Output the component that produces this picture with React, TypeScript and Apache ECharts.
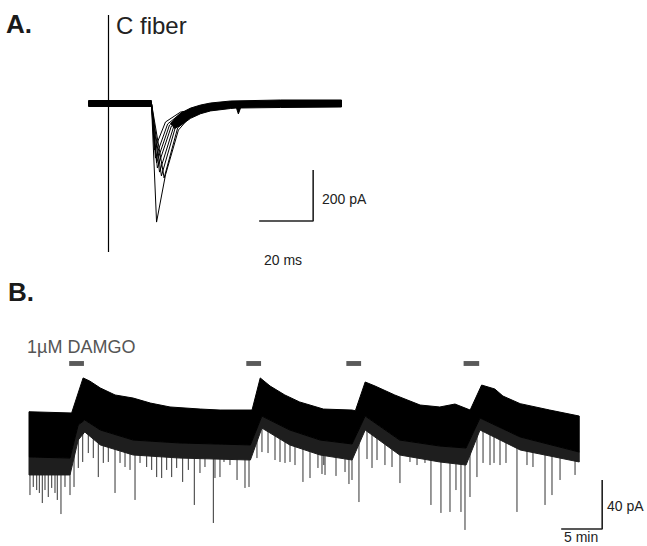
import React, { useEffect, useRef } from "react";
import * as echarts from "echarts";

// ---------- Panel A: evoked C-fiber EPSCs (time in ms, current in pA) ----------
const aOnset: number[][] = [[-7.4, 0], [15.9, 0]];
const aTail: number[][] = [[37.8, -23.5], [45.2, -11.8], [63.7, -3.9], [86.3, 0]];
const aTraceBodies: number[][][] = [
  [[17.0, -184], [21.1, -74.5], [26.7, -35.3]],
  [[17.4, -216], [21.9, -82.4], [27.4, -35.3]],
  [[17.8, -235], [22.6, -86.3], [28.1, -35.3]],
  [[18.1, -255], [23.3, -90.2], [28.9, -35.3]],
  [[18.9, -271], [24.1, -94.1], [29.6, -39.2]],
  [[19.6, -286], [24.8, -94.1], [30.4, -39.2]],
  [[20.6, -294], [25.6, -98.0], [31.1, -43.1]],
  [[17.8, -467], [21.1, -282], [25.9, -106], [30.4, -51]],
];
const aNoisePreTop: number[][] = [[-7.4, 9.8], [15.9, 9.8]];
const aNoisePreBottom: number[][] = [[-7.4, -13.7], [15.9, -13.7]];
const aNoisePostTop: number[][] = [
  [23.0, -80], [24.5, -62], [26.7, -40], [30.4, -20], [34.1, -8], [37.8, 0],
  [45.2, 7.8], [63.7, 11.8], [86.3, 11.8],
];
const aNoisePostBottom: number[][] = [
  [23.0, -80], [24.5, -100], [26.7, -88], [30.4, -60], [34.1, -42], [37.8, -31],
  [45.2, -21.6], [47.4, -19.6], [48.1, -43], [48.9, -19.6], [63.7, -17.6], [86.3, -15.7],
];
const aStimArtifact: number[][] = [[0, 345], [0, -584]];
const aScaleBar: number[][] = [[55.8, -462.7], [75.8, -462.7], [75.8, -262.7]]; // 20 ms, 200 pA

// ---------- Panel B: holding current with DAMGO applications (time in min, current in pA) ----------
const bTopEdge: number[][] = [
  [0, 0.2], [5.2, -0.8], [6.6, 27.8], [7.4, 25.3], [8.7, 19.6], [10.5, 13.9], [12.7, 11.4],
  [14.8, 7.3], [17.2, 4.1], [20.9, 2.4], [23.3, 1.6], [27.2, 1.6], [28.2, 27.8], [29.4, 21.2],
  [31.2, 13.9], [33.0, 8.2], [35.9, 2.4], [39.4, 1.6], [39.8, 1.0], [41.0, 24.5], [42.2, 21.2],
  [44.6, 13.9], [47.7, 5.7], [50.1, 4.1], [51.95, 6.5], [53.8, 1.6], [55.2, 22], [56.8, 18.8],
  [57.8, 13], [59.9, 6.8], [63.5, 1.6], [67.1, -3.3],
];
const bLowerEdge: number[][] = [
  [0, -36.7], [5.0, -37.6], [6.0, -10.6], [6.8, -6.5], [8.7, -14.7], [12.7, -22.9], [18.4, -25.3],
  [27.0, -26.9], [28.4, -3.3], [31.8, -14.7], [35.5, -22.9], [39.4, -26.1], [41.0, -3.3],
  [45.2, -22.9], [50.1, -27.8], [53.3, -29.4], [55.0, -4.9], [59.9, -20.4], [67.1, -32.7],
];
const bFringeEdge: number[][] = [
  [0, -51.4], [5.0, -51.4], [6.0, -22.9], [6.8, -16.3], [8.7, -26.9], [12.7, -35.1], [18.4, -37.6],
  [27.0, -39.2], [28.4, -13.1], [31.8, -26.9], [35.5, -35.1], [39.4, -39.2], [41.0, -14.7],
  [45.2, -35.1], [50.1, -40.8], [53.3, -43.3], [55.0, -14.7], [59.9, -31.0], [67.1, -40.8],
];
const bSpikes: number[][] = [
  [0.12, -67.8], [0.52, -61.2], [0.94, -63.7], [1.26, -66.1], [1.62, -74.3], [1.95, -63.7],
  [2.35, -69.4], [2.77, -62.0], [3.17, -66.1], [3.45, -71.8], [3.90, -83.3], [4.39, -61.2],
  [5.0, -67.8], [5.49, -61.2], [6.01, -45.7], [6.55, -40.8], [7.23, -33.5], [7.84, -37.6],
  [8.45, -53.1], [9.06, -41.6], [9.67, -40.8], [10.49, -66.1], [11.10, -41.6], [11.71, -44.9],
  [12.32, -47.3], [12.93, -71.8], [13.54, -41.6], [14.35, -44.9], [14.96, -47.3], [15.57, -53.1],
  [16.18, -53.9], [16.79, -47.3], [17.40, -53.1], [18.01, -45.7], [18.74, -57.1], [19.43, -47.3],
  [20.16, -75.9], [20.85, -49.8], [21.46, -44.9], [22.48, -90.6], [22.68, -53.9], [23.29, -53.1],
  [23.78, -40.8], [24.51, -43.3], [25.37, -55.5], [26.34, -62.0], [26.83, -61.2], [27.80, -37.6],
  [28.41, -32.7], [29.15, -33.5], [30.0, -39.2], [30.61, -40.8], [31.22, -41.6], [31.83, -40.8],
  [32.44, -43.3], [33.41, -57.1], [34.27, -53.9], [35.24, -45.7], [35.73, -50.6], [35.95, -43.3],
  [36.10, -51.4], [37.44, -52.2], [38.54, -49.0], [39.02, -58.8], [39.39, -55.5], [40.24, -73.5],
  [41.22, -38.4], [41.83, -45.7], [42.44, -39.2], [43.41, -43.3], [44.27, -44.9], [45.24, -58.0],
  [46.46, -40.8], [47.32, -43.3], [48.29, -41.6], [49.02, -75.9], [50.24, -82.4], [51.34, -81.6],
  [52.07, -63.7], [52.68, -81.6], [53.17, -96.3], [53.78, -69.4], [54.63, -53.1], [55.37, -41.6],
  [56.22, -43.3], [56.71, -41.6], [57.44, -43.3], [58.17, -41.6], [59.51, -81.6], [60.73, -43.3],
  [61.46, -44.9], [62.93, -75.9], [63.78, -67.8], [64.76, -55.5], [66.59, -51.4],
];
const bDrugStart: number[] = [4.9, 26.5, 38.7, 53.0];
const bDrugEnd: number[] = [6.7, 28.3, 40.5, 54.9];
const bDrugLevel: number[] = [41.6, 37.6];
const bScaleBar: number[][] = [[64.9, -95.5], [69.9, -95.5], [69.9, -55.5]]; // 5 min, 40 pA

const FONT = '"Liberation Sans", Arial, Helvetica, sans-serif';

function polygonSeries(
  xAxisIndex: number,
  upper: number[][],
  lower: number[][],
  fill: string,
  z: number
) {
  return {
    type: "custom",
    xAxisIndex,
    yAxisIndex: xAxisIndex,
    z,
    silent: true,
    data: [0],
    renderItem: (_params: any, api: any) => {
      const pts = upper.map((p) => api.coord(p)).concat(lower.slice().reverse().map((p) => api.coord(p)));
      return {
        type: "polygon",
        shape: { points: pts },
        style: { fill, stroke: fill, lineWidth: 1, lineJoin: "round" },
      };
    },
  };
}

export default function App() {
  const ref = useRef<HTMLDivElement>(null);
  useEffect(() => {
    if (!ref.current) return;
    const chart = echarts.init(ref.current, null, { renderer: "svg" });
    const traceSeries = aTraceBodies.map((body) => ({
      type: "line",
      xAxisIndex: 0,
      yAxisIndex: 0,
      data: aOnset.concat(body, aTail),
      showSymbol: false,
      lineStyle: { color: "#000", width: 1 },
      z: 3,
    }));
    const option: any = {
      animation: false,
      backgroundColor: "#fff",
      grid: [
        { left: 81.5, top: 11.2, width: 270, height: 244.8 },
        { left: 29, top: 350.75, width: 615, height: 183.75 },
      ],
      xAxis: [
        { type: "value", gridIndex: 0, min: -10, max: 90, show: false },
        { type: "value", gridIndex: 1, min: 0, max: 75, show: false },
      ],
      yAxis: [
        { type: "value", gridIndex: 0, min: -600, max: 360, show: false },
        { type: "value", gridIndex: 1, min: -100, max: 50, show: false },
      ],
      series: [
        polygonSeries(0, aNoisePreTop, aNoisePreBottom, "#000", 2),
        polygonSeries(0, aNoisePostTop, aNoisePostBottom, "#000", 2),
        ...traceSeries,
        {
          type: "line",
          xAxisIndex: 0,
          yAxisIndex: 0,
          data: aStimArtifact,
          showSymbol: false,
          lineStyle: { color: "#000", width: 1.2 },
          z: 4,
        },
        {
          type: "line",
          xAxisIndex: 0,
          yAxisIndex: 0,
          data: aScaleBar,
          showSymbol: false,
          lineStyle: { color: "#222", width: 1.6 },
          z: 4,
        },
        {
          type: "custom",
          xAxisIndex: 1,
          yAxisIndex: 1,
          z: 1,
          silent: true,
          data: bSpikes,
          renderItem: (_params: any, api: any) => {
            const t = api.value(0);
            const v = api.value(1);
            const a = api.coord([t, -8]);
            const b = api.coord([t, v]);
            return {
              type: "line",
              shape: { x1: a[0], y1: a[1], x2: b[0], y2: b[1] },
              style: { stroke: "#333", lineWidth: 1 },
            };
          },
        },
        polygonSeries(1, bLowerEdge, bFringeEdge, "#1e1e1e", 2),
        polygonSeries(1, bTopEdge, bLowerEdge, "#000", 3),
        {
          type: "custom",
          xAxisIndex: 1,
          yAxisIndex: 1,
          z: 3,
          silent: true,
          data: bDrugStart.map((s, i) => [s, bDrugEnd[i]]),
          renderItem: (_params: any, api: any) => {
            const p0 = api.coord([api.value(0), bDrugLevel[0]]);
            const p1 = api.coord([api.value(1), bDrugLevel[1]]);
            return {
              type: "rect",
              shape: { x: p0[0], y: p0[1], width: p1[0] - p0[0], height: p1[1] - p0[1] },
              style: { fill: "#5a5a5a" },
            };
          },
        },
        {
          type: "line",
          xAxisIndex: 1,
          yAxisIndex: 1,
          data: bScaleBar,
          showSymbol: false,
          lineStyle: { color: "#222", width: 1.6 },
          z: 4,
        },
      ],
      graphic: [
        { type: "text", x: 6, y: 24, style: { text: "A.", font: `bold 26px ${FONT}`, fill: "#1a1a1a", verticalAlign: "middle" } },
        { type: "text", x: 116, y: 25, style: { text: "C fiber", font: `24px ${FONT}`, fill: "#222", verticalAlign: "middle" } },
        { type: "text", x: 322, y: 199, style: { text: "200 pA", font: `14px ${FONT}`, fill: "#222", verticalAlign: "middle" } },
        { type: "text", x: 264, y: 260, style: { text: "20 ms", font: `14px ${FONT}`, fill: "#222", verticalAlign: "middle" } },
        { type: "text", x: 8, y: 292, style: { text: "B.", font: `bold 26px ${FONT}`, fill: "#1a1a1a", verticalAlign: "middle" } },
        { type: "text", x: 27, y: 347, style: { text: "1µM DAMGO", font: `18px ${FONT}`, fill: "#555", verticalAlign: "middle" } },
        { type: "text", x: 607, y: 506, style: { text: "40 pA", font: `14px ${FONT}`, fill: "#222", verticalAlign: "middle" } },
        { type: "text", x: 564, y: 537, style: { text: "5 min", font: `14px ${FONT}`, fill: "#222", verticalAlign: "middle" } },
      ],
    };
    chart.setOption(option);
    return () => chart.dispose();
  }, []);
  return (
    <div
      ref={ref}
      style={{ position: "fixed", left: 0, top: 0, width: 647, height: 546, background: "#fff" }}
    />
  );
}
